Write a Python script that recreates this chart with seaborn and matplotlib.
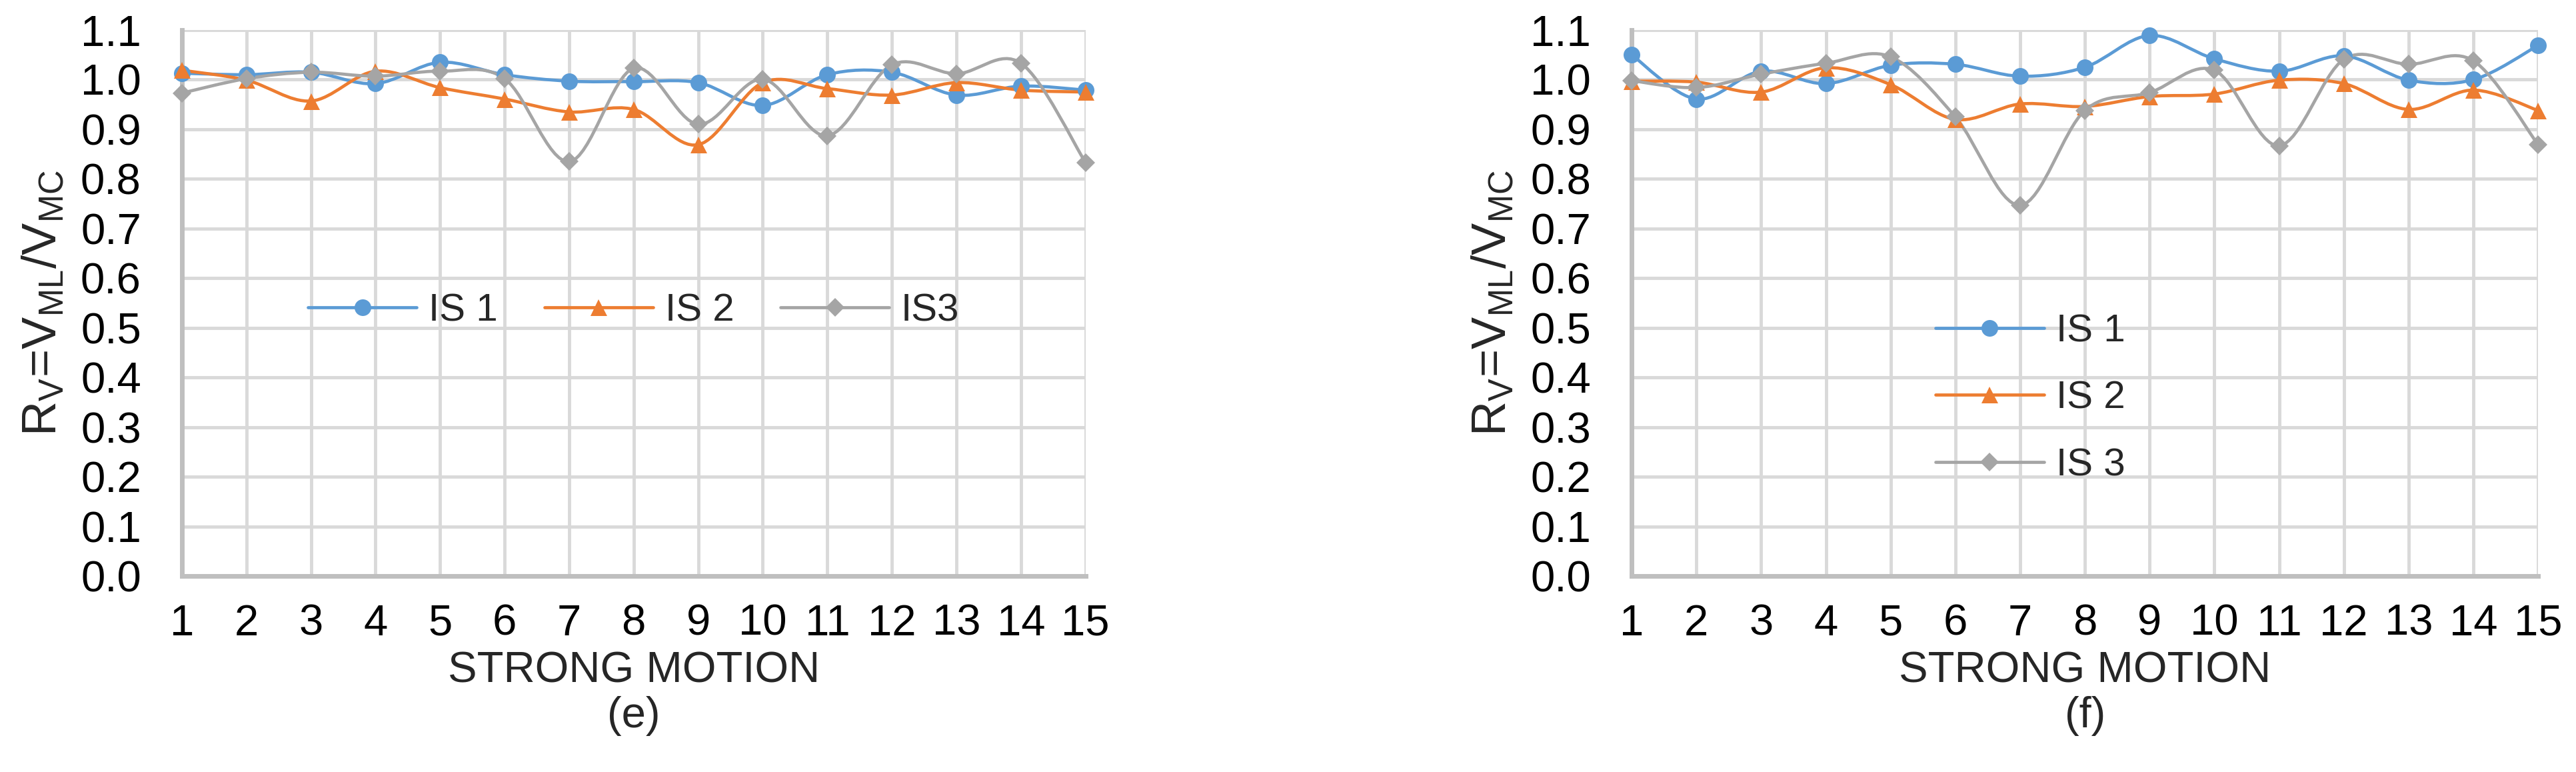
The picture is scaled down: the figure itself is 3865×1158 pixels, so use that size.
import numpy as np
import pandas as pd
import matplotlib
matplotlib.use("Agg")
import matplotlib.pyplot as plt
import seaborn as sns
from matplotlib.path import Path
from matplotlib.patches import PathPatch
from matplotlib.lines import Line2D

# values
motions = list(range(1, 16))

e_is1 = [1.013, 1.010, 1.015, 0.992, 1.035, 1.010, 0.997, 0.996, 0.994, 0.948, 1.010, 1.015, 0.969, 0.987, 0.979]
e_is2 = [1.019, 0.999, 0.957, 1.017, 0.984, 0.961, 0.935, 0.940, 0.869, 0.994, 0.982, 0.969, 0.994, 0.979, 0.975]
e_is3 = [0.973, 1.002, 1.015, 1.007, 1.017, 1.002, 0.835, 1.023, 0.910, 1.001, 0.887, 1.030, 1.012, 1.033, 0.833]

f_is1 = [1.050, 0.961, 1.017, 0.992, 1.029, 1.031, 1.007, 1.025, 1.089, 1.042, 1.017, 1.048, 0.999, 1.000, 1.069]
f_is2 = [0.997, 0.995, 0.975, 1.024, 0.990, 0.920, 0.951, 0.946, 0.966, 0.971, 0.999, 0.992, 0.940, 0.979, 0.938]
f_is3 = [0.998, 0.984, 1.011, 1.033, 1.046, 0.925, 0.747, 0.938, 0.974, 1.019, 0.867, 1.041, 1.031, 1.038, 0.869]

e_labels = ["IS 1", "IS 2", "IS3"]
f_labels = ["IS 1", "IS 2", "IS 3"]
yticks = [round(0.1 * i, 1) for i in range(12)]

colors = ["#5B9BD5", "#ED7D31", "#A5A5A5"]
markers = ["o", "^", "D"]
msizes = [18, 18, 14]

sns.set_style("whitegrid")
plt.rcParams["font.family"] = ["Liberation Sans", "DejaVu Sans"]
plt.rcParams["mathtext.fontset"] = "custom"
plt.rcParams["mathtext.rm"] = "Liberation Sans"
plt.rcParams["mathtext.it"] = "Liberation Sans"
plt.rcParams["mathtext.default"] = "regular"


def smooth_path(xs, ys):
    # excel-like smoothed line: cubic bezier through the points
    pts = np.column_stack([xs, ys]).astype(float)
    n = len(pts)
    verts = [pts[0]]
    codes = [Path.MOVETO]
    for i in range(n - 1):
        p0 = pts[max(i - 1, 0)]
        p1 = pts[i]
        p2 = pts[i + 1]
        p3 = pts[min(i + 2, n - 1)]
        verts += [p1 + (p2 - p0) / 6, p2 - (p3 - p1) / 6, p2]
        codes += [Path.CURVE4] * 3
    return Path(verts, codes)


def draw_panel(ax, series, labels, tag):
    df = pd.DataFrame({
        "motion": motions * 3,
        "value": series[0] + series[1] + series[2],
        "series": sum([[l] * len(motions) for l in labels], []),
    })
    for lab, col, mk, ms in zip(labels, colors, markers, msizes):
        d = df[df["series"] == lab]
        ax.add_patch(PathPatch(smooth_path(d["motion"], d["value"]), facecolor="none",
                               edgecolor=col, lw=3.4, capstyle="round", zorder=3))
        sns.lineplot(data=d, x="motion", y="value", marker=mk, markersize=ms, color=col,
                     linestyle="", markeredgewidth=0, ax=ax, zorder=4, clip_on=False, legend=False)
    ax.set_xlim(1, 15)
    ax.set_ylim(0, 1.1)
    ax.set_xticks(motions)
    ax.set_yticks(yticks)
    ax.set_yticklabels([f"{v:.1f}" for v in yticks])
    ax.grid(True, color="#D9D9D9", lw=3.5)
    ax.set_axisbelow(True)
    for s in ["top", "right"]:
        ax.spines[s].set_visible(False)
    for s in ["left", "bottom"]:
        ax.spines[s].set_color("#BFBFBF")
        ax.spines[s].set_linewidth(5)
        ax.spines[s].set_zorder(2.5)
    ax.tick_params(axis="both", length=0, labelsize=47, colors="black")
    ax.tick_params(axis="y", pad=44)
    ax.tick_params(axis="x", pad=30)
    ax.set_xlabel("STRONG MOTION\n" + tag, fontsize=47, labelpad=8, linespacing=1.15)
    ax.set_ylabel(r"$R_V$=$V_{ML}$/$V_{MC}$", fontsize=52, labelpad=16)


fig = plt.figure(figsize=(38.65, 11.58), dpi=100)
ax1 = fig.add_axes([0.0706, 0.2539, 0.3508, 0.7072])
ax2 = fig.add_axes([0.6334, 0.2539, 0.3519, 0.7072])

draw_panel(ax1, [e_is1, e_is2, e_is3], e_labels, "(e)")
draw_panel(ax2, [f_is1, f_is2, f_is3], f_labels, "(f)")

h1 = [Line2D([0], [0], color=c, lw=3.4, marker=m, markersize=s, markeredgewidth=0)
      for c, m, s in zip(colors, markers, msizes)]
ax1.legend(h1, e_labels, ncol=3, loc="center", bbox_to_anchor=(0.5, 0.485), frameon=False,
           fontsize=42, handlelength=2.8, handletextpad=0.3, columnspacing=1.2,
           borderpad=0, borderaxespad=0)
ax2.legend(h1, f_labels, ncol=1, loc="center left", bbox_to_anchor=(0.335, 0.325), frameon=False,
           fontsize=42, handlelength=2.8, handletextpad=0.3, labelspacing=0.8,
           borderpad=0, borderaxespad=0)

plt.savefig("out.png", dpi=100)
